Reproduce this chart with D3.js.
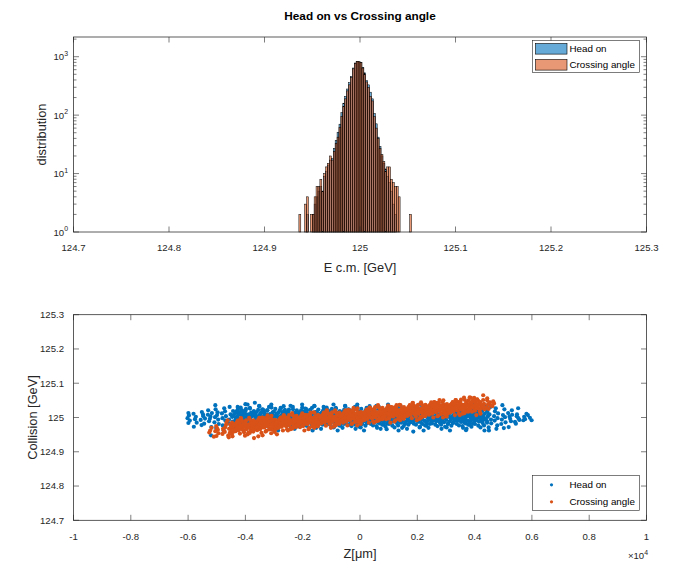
<!DOCTYPE html>
<html>
<head>
<meta charset="utf-8">
<title>Head on vs Crossing angle</title>
<script src="https://cdn.jsdelivr.net/npm/d3@7/dist/d3.min.js"></script>
<style>
  html, body { margin: 0; padding: 0; background: #fff; }
  svg { display: block; font-family: "Liberation Sans", Arial, Helvetica, sans-serif; }
</style>
</head>
<body>
<svg id="fig" width="674" height="564"></svg>
<script>
// ---------- Histogram of the centre-of-mass energy ----------
const binStart = 124.936;   // GeV, left edge of the first bin
const binWidth = 0.002;     // GeV
const headOnCounts = [0,0,0,1,2,0,1,2,3,4, 5,6,5,9,11,14,17,18,27,37, 51,70,110,160,210,280,360,460,640,780,
  820,810,800,660,530,390,330,247,190,107, 71,42,29,20,15,12,9,7,5,3, 2,1,0,0,0,0,0,0,0];
const crossingCounts = [2,0,0,3,4,0,2,2,4,6, 6,8,5,10,13,15,20,17,24,33, 42,62,95,140,190,260,330,440,620,770,
  830,820,790,640,500,370,300,210,175,95, 60,40,27,21,16,11,13,13,8,7, 6,6,4,0,0,0,0,0,2];

const energyTicks = [124.7, 124.8, 124.9, 125, 125.1, 125.2, 125.3];
const countTicks = [1, 10, 100, 1000];
const countExponents = ["0", "1", "2", "3"];
const countMax = 2174;

// ---------- Collision energy against longitudinal position ----------
// each point: [z in μm, deviation from the nominal energy in MeV]
const nominalEnergy = 125; // GeV
const headOnPoints = [
  [-6020,-2],[-5970,6],[-5940,-9],[-5990,13],[-5990,-16],[-5800,-27],[-5810,11],[-5760,-5],[-5700,-15],[-5730,2],
  [-5560,-7],[-5520,16],[-5470,4],[-5440,-18],[-5530,-22],[-5480,9],[-5410,-3],[-5300,21],[-5270,-11],[-5220,3],
  [-5190,-28],[-5310,8],[-5240,-4],[-5170,13],[-5200,-52],[-5050,36],[-5080,-14],[-5040,24],[-4990,7],[-4950,-6],
  [-5020,-31],[-4970,15],[-4930,-19],[-5060,1],[-4820,12],[-4790,-23],[-4740,27],[-4700,-9],[-4680,4],[-4760,-38],
  [-4710,18],[-4800,-2],[-4580,-17],[-4550,31],[-4520,9],[-4490,-29],[-4460,2],[-4430,19],[-4570,-6],[-4500,-42],
  [-4440,-12],[-3670,43],[-4000,39],
  [-4360,-33],[-4310,-21],[-4260,-14],[-4210,-9],[-4160,-4],[-4335,0],[-4285,4],[-4235,9],[-4185,14],[-4135,21],[-4270,31],
  [-3905,-27],[-4120,-18],[-3970,-12],[-4045,-7],[-3890,-2],[-4070,2],[-3940,6],[-4005,11],[-4100,17],[-3980,25],[-3925,38],
  [-3780,-38],[-3680,-24],[-3865,-16],[-3740,-10],[-3825,-5],[-3645,-1],[-3800,3],[-3665,7],[-3755,12],[-3705,19],[-3845,28],
  [-3610,-30],[-3560,-19],[-3510,-13],[-3460,-8],[-3410,-3],[-3585,1],[-3535,5],[-3485,10],[-3435,16],[-3385,23],[-3520,34],
  [-3155,-33],[-3370,-21],[-3220,-14],[-3295,-9],[-3140,-4],[-3320,0],[-3190,4],[-3255,9],[-3350,14],[-3230,21],[-3175,31],
  [-3030,-27],[-2930,-18],[-3115,-12],[-2990,-7],[-3075,-2],[-2895,2],[-3050,6],[-2915,11],[-3005,17],[-2955,25],[-3095,38],
  [-2860,-38],[-2810,-24],[-2760,-16],[-2710,-10],[-2660,-5],[-2835,-1],[-2785,3],[-2735,7],[-2685,12],[-2635,19],[-2770,28],
  [-2405,-30],[-2620,-19],[-2470,-13],[-2545,-8],[-2390,-3],[-2570,1],[-2440,5],[-2505,10],[-2600,16],[-2480,23],[-2425,34],
  [-2280,-33],[-2180,-21],[-2365,-14],[-2240,-9],[-2325,-4],[-2145,0],[-2300,4],[-2165,9],[-2255,14],[-2205,21],[-2345,31],
  [-2110,-27],[-2060,-18],[-2010,-12],[-1960,-7],[-1910,-2],[-2085,2],[-2035,6],[-1985,11],[-1935,17],[-1885,25],[-2020,38],
  [-1655,-38],[-1870,-24],[-1720,-16],[-1795,-10],[-1640,-5],[-1820,-1],[-1690,3],[-1755,7],[-1850,12],[-1730,19],[-1675,28],
  [-1530,-30],[-1430,-19],[-1615,-13],[-1490,-8],[-1575,-3],[-1395,1],[-1550,5],[-1415,10],[-1505,16],[-1455,23],[-1595,34],
  [-1360,-33],[-1310,-21],[-1260,-14],[-1210,-9],[-1160,-4],[-1335,0],[-1285,4],[-1235,9],[-1185,14],[-1135,21],[-1270,31],
  [-905,-27],[-1120,-18],[-970,-12],[-1045,-7],[-890,-2],[-1070,2],[-940,6],[-1005,11],[-1100,17],[-980,25],[-925,38],
  [-780,-38],[-680,-24],[-865,-16],[-740,-10],[-825,-5],[-645,-1],[-800,3],[-665,7],[-755,12],[-705,19],[-845,28],
  [-610,-30],[-560,-19],[-510,-13],[-460,-8],[-410,-3],[-585,1],[-535,5],[-485,10],[-435,16],[-385,23],[-520,34],
  [-155,-33],[-370,-21],[-220,-14],[-295,-9],[-140,-4],[-320,0],[-190,4],[-255,9],[-350,14],[-230,21],[-175,31],
  [-30,-27],[70,-18],[-115,-12],[10,-7],[-75,-2],[105,2],[-50,6],[85,11],[-5,17],[45,25],[-95,38],
  [140,-38],[190,-24],[240,-16],[290,-10],[340,-5],[165,-1],[215,3],[265,7],[315,12],[365,19],[230,28],
  [595,-30],[380,-19],[530,-13],[455,-8],[610,-3],[430,1],[560,5],[495,10],[400,16],[520,23],[575,34],
  [720,-33],[820,-21],[635,-14],[760,-9],[675,-4],[855,0],[700,4],[835,9],[745,14],[795,21],[655,31],
  [890,-27],[940,-18],[990,-12],[1040,-7],[1090,-2],[915,2],[965,6],[1015,11],[1065,17],[1115,25],[980,38],
  [1345,-38],[1130,-24],[1280,-16],[1205,-10],[1360,-5],[1180,-1],[1310,3],[1245,7],[1150,12],[1270,19],[1325,28],
  [1470,-30],[1570,-19],[1385,-13],[1510,-8],[1425,-3],[1605,1],[1450,5],[1585,10],[1495,16],[1545,23],[1405,34],
  [1640,-33],[1690,-21],[1740,-14],[1790,-9],[1840,-4],[1665,0],[1715,4],[1765,9],[1815,14],[1865,21],[1730,31],
  [2095,-27],[1880,-18],[2030,-12],[1955,-7],[2110,-2],[1930,2],[2060,6],[1995,11],[1900,17],[2020,25],[2075,38],
  [2220,-38],[2320,-24],[2135,-16],[2260,-10],[2175,-5],[2355,-1],[2200,3],[2335,7],[2245,12],[2295,19],[2155,28],
  [2390,-30],[2440,-19],[2490,-13],[2540,-8],[2590,-3],[2415,1],[2465,5],[2515,10],[2565,16],[2615,23],[2480,34],
  [2845,-33],[2630,-21],[2780,-14],[2705,-9],[2860,-4],[2680,0],[2810,4],[2745,9],[2650,14],[2770,21],[2825,31],
  [2970,-27],[3070,-18],[2885,-12],[3010,-7],[2925,-2],[3105,2],[2950,6],[3085,11],[2995,17],[3045,25],[2905,38],
  [3140,-38],[3190,-24],[3240,-16],[3290,-10],[3340,-5],[3165,-1],[3215,3],[3265,7],[3315,12],[3365,19],[3230,28],
  [3595,-30],[3380,-19],[3530,-13],[3455,-8],[3610,-3],[3430,1],[3560,5],[3495,10],[3400,16],[3520,23],[3575,34],
  [3720,-33],[3820,-21],[3635,-14],[3760,-9],[3675,-4],[3855,0],[3700,4],[3835,9],[3745,14],[3795,21],[3655,31],
  [3890,-27],[3940,-18],[3990,-12],[4040,-7],[4090,-2],[3915,2],[3965,6],[4015,11],[4065,17],[4115,25],[3980,38],
  [4345,-38],[4130,-24],[4280,-16],[4205,-10],[4360,-5],[4180,-1],[4310,3],[4245,7],[4150,12],[4270,19],[4325,28],
  [-4475,-25],[-4430,-17],[-4380,-11],[-4330,-6],[-4280,-2],[-4455,3],[-4405,8],[-4355,13],[-4305,18],[-4265,24],
  [-4045,-21],[-4235,-14],[-4100,-9],[-4185,-4],[-4020,0],[-4140,5],[-4070,10],[-4215,15],[-4120,21],[-4165,29],
  [-3920,-29],[-3815,-19],[-3970,-12],[-3860,-7],[-3945,-1],[-3775,4],[-3895,9],[-3800,14],[-3995,20],[-3840,26],
  [-3725,-23],[-3680,-15],[-3630,-10],[-3580,-5],[-3530,1],[-3705,6],[-3655,11],[-3605,16],[-3555,22],[-3515,33],
  [-3295,-25],[-3485,-17],[-3350,-11],[-3435,-6],[-3270,-2],[-3390,3],[-3320,8],[-3465,13],[-3370,18],[-3415,24],
  [-3170,-21],[-3065,-14],[-3220,-9],[-3110,-4],[-3195,0],[-3025,5],[-3145,10],[-3050,15],[-3245,21],[-3090,29],
  [-2975,-29],[-2930,-19],[-2880,-12],[-2830,-7],[-2780,-1],[-2955,4],[-2905,9],[-2855,14],[-2805,20],[-2765,26],
  [-2545,-23],[-2735,-15],[-2600,-10],[-2685,-5],[-2520,1],[-2640,6],[-2570,11],[-2715,16],[-2620,22],[-2665,33],
  [-2420,-25],[-2315,-17],[-2470,-11],[-2360,-6],[-2445,-2],[-2275,3],[-2395,8],[-2300,13],[-2495,18],[-2340,24],
  [-2225,-21],[-2180,-14],[-2130,-9],[-2080,-4],[-2030,0],[-2205,5],[-2155,10],[-2105,15],[-2055,21],[-2015,29],
  [-1795,-29],[-1985,-19],[-1850,-12],[-1935,-7],[-1770,-1],[-1890,4],[-1820,9],[-1965,14],[-1870,20],[-1915,26],
  [-1670,-23],[-1565,-15],[-1720,-10],[-1610,-5],[-1695,1],[-1525,6],[-1645,11],[-1550,16],[-1745,22],[-1590,33],
  [-1475,-25],[-1430,-17],[-1380,-11],[-1330,-6],[-1280,-2],[-1455,3],[-1405,8],[-1355,13],[-1305,18],[-1265,24],
  [-1045,-21],[-1235,-14],[-1100,-9],[-1185,-4],[-1020,0],[-1140,5],[-1070,10],[-1215,15],[-1120,21],[-1165,29],
  [-920,-29],[-815,-19],[-970,-12],[-860,-7],[-945,-1],[-775,4],[-895,9],[-800,14],[-995,20],[-840,26],
  [-725,-23],[-680,-15],[-630,-10],[-580,-5],[-530,1],[-705,6],[-655,11],[-605,16],[-555,22],[-515,33],
  [-295,-25],[-485,-17],[-350,-11],[-435,-6],[-270,-2],[-390,3],[-320,8],[-465,13],[-370,18],[-415,24],
  [-170,-21],[-65,-14],[-220,-9],[-110,-4],[-195,0],[-25,5],[-145,10],[-50,15],[-245,21],[-90,29],
  [25,-29],[70,-19],[120,-12],[170,-7],[220,-1],[45,4],[95,9],[145,14],[195,20],[235,26],
  [455,-23],[265,-15],[400,-10],[315,-5],[480,1],[360,6],[430,11],[285,16],[380,22],[335,33],
  [580,-25],[685,-17],[530,-11],[640,-6],[555,-2],[725,3],[605,8],[700,13],[505,18],[660,24],
  [775,-21],[820,-14],[870,-9],[920,-4],[970,0],[795,5],[845,10],[895,15],[945,21],[985,29],
  [1205,-29],[1015,-19],[1150,-12],[1065,-7],[1230,-1],[1110,4],[1180,9],[1035,14],[1130,20],[1085,26],
  [1330,-23],[1435,-15],[1280,-10],[1390,-5],[1305,1],[1475,6],[1355,11],[1450,16],[1255,22],[1410,33],
  [1525,-25],[1570,-17],[1620,-11],[1670,-6],[1720,-2],[1545,3],[1595,8],[1645,13],[1695,18],[1735,24],
  [1955,-21],[1765,-14],[1900,-9],[1815,-4],[1980,0],[1860,5],[1930,10],[1785,15],[1880,21],[1835,29],
  [2080,-29],[2185,-19],[2030,-12],[2140,-7],[2055,-1],[2225,4],[2105,9],[2200,14],[2005,20],[2160,26],
  [2275,-23],[2320,-15],[2370,-10],[2420,-5],[2470,1],[2295,6],[2345,11],[2395,16],[2445,22],[2485,33],
  [2705,-25],[2515,-17],[2650,-11],[2565,-6],[2730,-2],[2610,3],[2680,8],[2535,13],[2630,18],[2585,24],
  [2830,-21],[2935,-14],[2780,-9],[2890,-4],[2805,0],[2975,5],[2855,10],[2950,15],[2755,21],[2910,29],
  [3025,-29],[3070,-19],[3120,-12],[3170,-7],[3220,-1],[3045,4],[3095,9],[3145,14],[3195,20],[3235,26],
  [3455,-23],[3265,-15],[3400,-10],[3315,-5],[3480,1],[3360,6],[3430,11],[3285,16],[3380,22],[3335,33],
  [3580,-25],[3685,-17],[3530,-11],[3640,-6],[3555,-2],[3725,3],[3605,8],[3700,13],[3505,18],[3660,24],
  [3775,-21],[3820,-14],[3870,-9],[3920,-4],[3970,0],[3795,5],[3845,10],[3895,15],[3945,21],[3985,29],
  [4205,-29],[4015,-19],[4150,-12],[4065,-7],[4230,-1],[4110,4],[4180,9],[4035,14],[4130,20],[4085,26],
  [4330,-23],[4435,-15],[4280,-10],[4390,-5],[4305,1],[4475,6],[4355,11],[4450,16],[4255,22],[4410,33],
  [4580,-17],[4550,31],[4520,9],[4490,-29],[4460,2],[4430,19],[4570,-6],[4500,-38],[4440,-12],[4820,12],
  [4790,-23],[4740,27],[4700,-9],[4680,4],[4760,-33],[4710,18],[4800,-2],[5080,-14],[5040,24],[4990,7],
  [4950,-6],[5020,-31],[4970,36],[4930,-19],[5060,1],[5300,21],[5270,-11],[5220,3],[5190,-28],[5310,8],
  [5240,-4],[5170,13],[5560,-7],[5520,27],[5470,4],[5440,-18],[5530,-2],[5480,9],[5410,-13],[5810,11],
  [5760,-5],[5700,-8],[5730,2],[5860,7],[5930,-1],[5990,-8],[3700,-37],[930,-34],[1860,-41]
];
const crossingPoints = [
  [-5230,-38],[-5180,-30],[-5260,-44],[-5100,-56],[-5010,-54],[-5050,-40],[-4990,-31],[-4940,-46],[-5020,-25],[-4960,-36],
  [-4800,-48],[-4760,-38],[-4710,-29],[-4680,-22],[-4780,-33],[-4720,-42],[-4660,-15],[-4580,-58],[-4450,-55],[-3700,-60],
  [-3550,-55],[-3400,-52],[-2900,-49],
  [-4600,-53],[-4545,-45],[-4480,-40],[-4425,-36],[-4570,-33],[-4515,-30],[-4450,-27],[-4395,-24],[-4530,-20],[-4465,-15],[-4620,-8],
  [-4190,-47],[-4340,-40],[-4240,-36],[-4135,-32],[-4305,-29],[-4165,-26],[-4275,-23],[-4360,-20],[-4210,-16],[-4255,-10],[-4155,-2],
  [-4015,-53],[-3890,-43],[-4080,-37],[-3965,-33],[-4120,-30],[-3935,-27],[-4040,-25],[-3910,-22],[-3995,-19],[-4065,-14],[-3975,-8],
  [-3850,-45],[-3795,-37],[-3730,-33],[-3675,-29],[-3820,-26],[-3765,-23],[-3700,-20],[-3645,-17],[-3780,-13],[-3715,-8],[-3870,-1],
  [-3440,-45],[-3590,-37],[-3490,-32],[-3385,-28],[-3555,-25],[-3415,-22],[-3525,-19],[-3610,-16],[-3460,-12],[-3505,-7],[-3405,0],
  [-3265,-39],[-3140,-32],[-3330,-28],[-3215,-24],[-3370,-21],[-3185,-18],[-3290,-15],[-3160,-12],[-3245,-8],[-3315,-2],[-3225,6],
  [-3100,-46],[-3045,-36],[-2980,-30],[-2925,-26],[-3070,-23],[-3015,-20],[-2950,-18],[-2895,-15],[-3030,-12],[-2965,-7],[-3120,-1],
  [-2690,-38],[-2840,-30],[-2740,-26],[-2635,-22],[-2805,-19],[-2665,-16],[-2775,-13],[-2860,-10],[-2710,-6],[-2755,-1],[-2655,6],
  [-2515,-38],[-2390,-30],[-2580,-25],[-2465,-21],[-2620,-18],[-2435,-15],[-2540,-12],[-2410,-9],[-2495,-5],[-2565,0],[-2475,7],
  [-2350,-32],[-2295,-25],[-2230,-21],[-2175,-17],[-2320,-14],[-2265,-11],[-2200,-8],[-2145,-5],[-2280,-1],[-2215,5],[-2370,13],
  [-1940,-38],[-2090,-28],[-1990,-22],[-1885,-18],[-2055,-15],[-1915,-12],[-2025,-10],[-2110,-7],[-1960,-4],[-2005,1],[-1905,7],
  [-1765,-30],[-1640,-22],[-1830,-18],[-1715,-14],[-1870,-11],[-1685,-8],[-1790,-5],[-1660,-2],[-1745,2],[-1815,7],[-1725,14],
  [-1600,-30],[-1545,-22],[-1480,-17],[-1425,-13],[-1570,-10],[-1515,-7],[-1450,-4],[-1395,-1],[-1530,3],[-1465,8],[-1620,15],
  [-1190,-24],[-1340,-17],[-1240,-13],[-1135,-9],[-1305,-6],[-1165,-3],[-1275,0],[-1360,3],[-1210,7],[-1255,13],[-1155,21],
  [-1015,-30],[-890,-20],[-1080,-14],[-965,-10],[-1120,-7],[-935,-4],[-1040,-2],[-910,1],[-995,4],[-1065,9],[-975,15],
  [-850,-23],[-795,-15],[-730,-11],[-675,-7],[-820,-4],[-765,-1],[-700,2],[-645,5],[-780,9],[-715,14],[-870,21],
  [-440,-23],[-590,-15],[-490,-10],[-385,-6],[-555,-3],[-415,0],[-525,3],[-610,6],[-460,10],[-505,15],[-405,22],
  [-265,-17],[-140,-10],[-330,-6],[-215,-2],[-370,1],[-185,4],[-290,7],[-160,10],[-245,14],[-315,20],[-225,28],
  [-100,-23],[-45,-13],[20,-7],[75,-3],[-70,0],[-15,3],[50,5],[105,8],[-30,11],[35,16],[-120,22],
  [310,-15],[160,-7],[260,-3],[365,1],[195,4],[335,7],[225,10],[140,13],[290,17],[245,22],[345,29],
  [485,-15],[610,-7],[420,-2],[535,2],[380,5],[565,8],[460,11],[590,14],[505,18],[435,23],[525,30],
  [650,-9],[705,-2],[770,2],[825,6],[680,9],[735,12],[800,15],[855,18],[720,22],[785,28],[630,36],
  [1060,-15],[910,-5],[1010,1],[1115,5],[945,8],[1085,11],[975,13],[890,16],[1040,19],[995,24],[1095,30],
  [1235,-8],[1360,0],[1170,4],[1285,8],[1130,11],[1315,14],[1210,17],[1340,20],[1255,24],[1185,29],[1275,36],
  [1400,-8],[1455,0],[1520,5],[1575,9],[1430,12],[1485,15],[1550,18],[1605,21],[1470,25],[1535,30],[1380,37],
  [1810,-2],[1660,5],[1760,9],[1865,13],[1695,16],[1835,19],[1725,22],[1640,25],[1790,29],[1745,35],[1845,43],
  [1985,-8],[2110,2],[1920,8],[2035,12],[1880,15],[2065,18],[1960,20],[2090,23],[2005,26],[1935,31],[2025,37],
  [2150,0],[2205,8],[2270,12],[2325,16],[2180,19],[2235,22],[2300,25],[2355,28],[2220,32],[2285,37],[2130,44],
  [2560,0],[2410,8],[2510,13],[2615,17],[2445,20],[2585,23],[2475,26],[2390,29],[2540,33],[2495,38],[2595,45],
  [2735,6],[2860,13],[2670,17],[2785,21],[2630,24],[2815,27],[2710,30],[2840,33],[2755,37],[2685,43],[2775,51],
  [2900,0],[2955,10],[3020,16],[3075,20],[2930,23],[2985,26],[3050,28],[3105,31],[2970,34],[3035,39],[2880,45],
  [3310,7],[3160,15],[3260,19],[3365,23],[3195,26],[3335,29],[3225,32],[3140,35],[3290,39],[3245,44],[3345,51],
  [3485,7],[3610,15],[3420,20],[3535,24],[3380,27],[3565,30],[3460,33],[3590,36],[3505,40],[3435,45],[3525,52],
  [3650,13],[3705,20],[3770,24],[3825,28],[3680,31],[3735,34],[3800,37],[3855,40],[3720,44],[3785,50],[3630,58],
  [4060,7],[3910,17],[4010,23],[4115,27],[3945,30],[4085,33],[3975,35],[3890,38],[4040,41],[3995,46],[4095,52],
  [-4475,-49],[-4430,-42],[-4380,-37],[-4330,-33],[-4280,-30],[-4455,-26],[-4405,-23],[-4355,-19],[-4305,-15],[-4265,-9],
  [-4045,-43],[-4235,-37],[-4100,-33],[-4185,-29],[-4020,-26],[-4140,-23],[-4070,-19],[-4215,-15],[-4120,-10],[-4165,-3],
  [-3920,-49],[-3815,-40],[-3970,-34],[-3860,-30],[-3945,-27],[-3775,-24],[-3895,-20],[-3800,-16],[-3995,-12],[-3840,-7],
  [-3725,-41],[-3680,-34],[-3630,-30],[-3580,-26],[-3530,-23],[-3705,-19],[-3655,-16],[-3605,-12],[-3555,-7],[-3515,-1],
  [-3295,-41],[-3485,-34],[-3350,-29],[-3435,-25],[-3270,-22],[-3390,-18],[-3320,-15],[-3465,-11],[-3370,-7],[-3415,-1],
  [-3170,-35],[-3065,-29],[-3220,-25],[-3110,-21],[-3195,-18],[-3025,-15],[-3145,-11],[-3050,-7],[-3245,-2],[-3090,5],
  [-2975,-42],[-2930,-33],[-2880,-27],[-2830,-23],[-2780,-20],[-2955,-17],[-2905,-13],[-2855,-9],[-2805,-5],[-2765,0],
  [-2545,-34],[-2735,-27],[-2600,-23],[-2685,-19],[-2520,-16],[-2640,-12],[-2570,-9],[-2715,-5],[-2620,0],[-2665,6],
  [-2420,-34],[-2315,-27],[-2470,-22],[-2360,-18],[-2445,-15],[-2275,-11],[-2395,-8],[-2300,-4],[-2495,0],[-2340,6],
  [-2225,-28],[-2180,-22],[-2130,-18],[-2080,-14],[-2030,-11],[-2205,-8],[-2155,-4],[-2105,0],[-2055,5],[-2015,12],
  [-1795,-34],[-1985,-25],[-1850,-19],[-1935,-15],[-1770,-12],[-1890,-9],[-1820,-5],[-1965,-1],[-1870,3],[-1915,8],
  [-1670,-26],[-1565,-19],[-1720,-15],[-1610,-11],[-1695,-8],[-1525,-4],[-1645,-1],[-1550,3],[-1745,8],[-1590,14],
  [-1475,-26],[-1430,-19],[-1380,-14],[-1330,-10],[-1280,-7],[-1455,-3],[-1405,0],[-1355,4],[-1305,8],[-1265,14],
  [-1045,-20],[-1235,-14],[-1100,-10],[-1185,-6],[-1020,-3],[-1140,0],[-1070,4],[-1215,8],[-1120,13],[-1165,20],
  [-920,-27],[-815,-18],[-970,-12],[-860,-8],[-945,-5],[-775,-2],[-895,2],[-800,6],[-995,10],[-840,15],
  [-725,-19],[-680,-12],[-630,-8],[-580,-4],[-530,-1],[-705,3],[-655,6],[-605,10],[-555,15],[-515,21],
  [-295,-19],[-485,-12],[-350,-7],[-435,-3],[-270,0],[-390,4],[-320,7],[-465,11],[-370,15],[-415,21],
  [-170,-13],[-65,-7],[-220,-3],[-110,1],[-195,4],[-25,7],[-145,11],[-50,15],[-245,20],[-90,27],
  [25,-19],[70,-10],[120,-4],[170,0],[220,3],[45,6],[95,10],[145,14],[195,18],[235,23],
  [455,-11],[265,-4],[400,0],[315,4],[480,7],[360,11],[430,14],[285,18],[380,23],[335,29],
  [580,-11],[685,-4],[530,1],[640,5],[555,8],[725,12],[605,15],[700,19],[505,23],[660,29],
  [775,-5],[820,1],[870,5],[920,9],[970,12],[795,15],[845,19],[895,23],[945,28],[985,35],
  [1205,-12],[1015,-3],[1150,3],[1065,7],[1230,10],[1110,13],[1180,17],[1035,21],[1130,25],[1085,30],
  [1330,-4],[1435,3],[1280,7],[1390,11],[1305,14],[1475,18],[1355,21],[1450,25],[1255,30],[1410,36],
  [1525,-4],[1570,3],[1620,8],[1670,12],[1720,15],[1545,19],[1595,22],[1645,26],[1695,30],[1735,36],
  [1955,2],[1765,8],[1900,12],[1815,16],[1980,19],[1860,22],[1930,26],[1785,30],[1880,35],[1835,42],
  [2080,-4],[2185,5],[2030,11],[2140,15],[2055,18],[2225,21],[2105,25],[2200,29],[2005,33],[2160,38],
  [2275,4],[2320,11],[2370,15],[2420,19],[2470,22],[2295,26],[2345,29],[2395,33],[2445,38],[2485,44],
  [2705,4],[2515,11],[2650,16],[2565,20],[2730,23],[2610,27],[2680,30],[2535,34],[2630,38],[2585,44],
  [2830,10],[2935,16],[2780,20],[2890,24],[2805,27],[2975,30],[2855,34],[2950,38],[2755,43],[2910,50],
  [3025,3],[3070,12],[3120,18],[3170,22],[3220,25],[3045,28],[3095,32],[3145,36],[3195,40],[3235,45],
  [3455,11],[3265,18],[3400,22],[3315,26],[3480,29],[3360,33],[3430,36],[3285,40],[3380,45],[3335,51],
  [3580,11],[3685,18],[3530,23],[3640,27],[3555,30],[3725,34],[3605,37],[3700,41],[3505,45],[3660,51],
  [3775,17],[3820,23],[3870,27],[3920,31],[3970,34],[3795,37],[3845,41],[3895,45],[3945,50],[3985,57],
  [4205,11],[4015,20],[4150,26],[4065,30],[4230,33],[4110,36],[4180,40],[4035,44],[4130,48],[4085,53],
  [4180,18],[4230,27],[4290,33],[4330,40],[4210,45],[4270,36],[4350,24],[4300,51],[4420,30],[4470,39],
  [4540,44],[4490,25],[4560,35],[4440,50],[4620,33],[4680,41],[4650,47],[3830,59],[3870,57],[4300,65],[4440,56]
];

const zTicks = [-1, -0.8, -0.6, -0.4, -0.2, 0, 0.2, 0.4, 0.6, 0.8, 1]; // in units of 10^4 μm
const zExponent = "4";
const collisionTicks = [124.7, 124.8, 124.9, 125, 125.1, 125.2, 125.3];

const seriesNames = ["Head on", "Crossing angle"];
const seriesColors = ["#0072BD", "#D95319"];

// ---------- drawing ----------
const svg = d3.select("#fig");
const ink = "#262626";
const tickFont = 9.6, labelFont = 12.8, legendFont = 9.8;
const majorLen = 5.5, minorLen = 3;
const dotRadius = 2.1;

svg.append("rect").attr("width", 674).attr("height", 564).attr("fill", "#fff");

const boxA = { l: 73.5, r: 646.5, t: 37, b: 232 };
const boxB = { l: 73.5, r: 646.5, t: 314.7, b: 520.3 };

function mirroredTicks(g, box, xScale, xVals, yScale, yVals, len) {
  g.selectAll(null).data(xVals).join("path")
    .attr("d", v => { const x = xScale(v);
      return `M${x},${box.b}V${box.b - len}M${x},${box.t}V${box.t + len}`; })
    .attr("stroke", ink).attr("stroke-width", 0.6).attr("fill", "none");
  g.selectAll(null).data(yVals).join("path")
    .attr("d", v => { const y = yScale(v);
      return `M${box.l},${y}H${box.l + len}M${box.r},${y}H${box.r - len}`; })
    .attr("stroke", ink).attr("stroke-width", 0.6).attr("fill", "none");
}

function frameBox(g, box) {
  g.append("rect").attr("x", box.l).attr("y", box.t)
    .attr("width", box.r - box.l).attr("height", box.b - box.t)
    .attr("fill", "none").attr("stroke", ink).attr("stroke-width", 0.75);
}

// ===== top panel: histograms =====
const gA = svg.append("g");
const xA = d3.scaleLinear().domain([energyTicks[0], energyTicks[energyTicks.length - 1]]).range([boxA.l, boxA.r]);
const yA = d3.scaleLog().domain([1, countMax]).range([boxA.b, boxA.t]);

function histBars(counts, color) {
  const bars = counts.map((c, i) => ({ x0: binStart + i * binWidth, x1: binStart + (i + 1) * binWidth, c }))
    .filter(d => d.c >= 1);
  gA.append("g").selectAll("rect").data(bars).join("rect")
    .attr("x", d => xA(d.x0)).attr("width", d => xA(d.x1) - xA(d.x0))
    .attr("y", d => yA(d.c)).attr("height", d => yA(1) - yA(d.c))
    .attr("fill", color).attr("fill-opacity", 0.6)
    .attr("stroke", "#000").attr("stroke-width", 0.5);
}
histBars(headOnCounts, seriesColors[0]);
histBars(crossingCounts, seriesColors[1]);

const minorCounts = [];
for (let k = 0; k <= 3; k++) for (let m = 2; m <= 9; m++) {
  const v = m * Math.pow(10, k); if (v <= countMax) minorCounts.push(v);
}
mirroredTicks(gA, boxA, xA, energyTicks, yA, countTicks, majorLen);
mirroredTicks(gA, boxA, xA, [], yA, minorCounts, minorLen);
frameBox(gA, boxA);

gA.selectAll(null).data(energyTicks).join("text")
  .attr("x", d => xA(d)).attr("y", boxA.b + 19)
  .attr("text-anchor", "middle").attr("font-size", tickFont).attr("fill", ink)
  .text(d => String(d));

const yLabA = gA.selectAll(null).data(countTicks).join("text")
  .attr("x", boxA.l - 5.5).attr("y", d => yA(d) + 3.6)
  .attr("text-anchor", "end").attr("font-size", tickFont).attr("fill", ink);
yLabA.append("tspan").text("10");
yLabA.append("tspan").attr("dy", -4.5).attr("font-size", tickFont * 0.72)
  .text((d, i) => countExponents[i]);

svg.append("text").attr("x", (boxA.l + boxA.r) / 2).attr("y", 19.5)
  .attr("text-anchor", "middle").attr("font-size", 11.8).attr("font-weight", "bold")
  .attr("fill", "#000").text("Head on vs Crossing angle");
svg.append("text").attr("x", (boxA.l + boxA.r) / 2).attr("y", 272)
  .attr("text-anchor", "middle").attr("font-size", labelFont).attr("fill", ink)
  .text("E c.m. [GeV]");
svg.append("text").attr("transform", `translate(46,${(boxA.t + boxA.b) / 2}) rotate(-90)`)
  .attr("text-anchor", "middle").attr("font-size", labelFont).attr("fill", ink)
  .text("distribution");

// legend of the histograms
const legA = svg.append("g");
legA.append("rect").attr("x", 532.5).attr("y", 40.5).attr("width", 107).attr("height", 32)
  .attr("fill", "#fff").attr("stroke", ink).attr("stroke-width", 0.6);
seriesNames.forEach((name, i) => {
  const yc = 48.8 + i * 16;
  legA.append("rect").attr("x", 535.5).attr("y", yc - 5.3).attr("width", 31.5).attr("height", 10.6)
    .attr("fill", seriesColors[i]).attr("fill-opacity", 0.6).attr("stroke", "#000").attr("stroke-width", 0.6);
  legA.append("text").attr("x", 569.5).attr("y", yc + 3.5).attr("font-size", legendFont).attr("fill", "#000")
    .text(name);
});

// ===== bottom panel: scatter =====
const gB = svg.append("g");
const xB = d3.scaleLinear().domain([zTicks[0] * 1e4, zTicks[zTicks.length - 1] * 1e4]).range([boxB.l, boxB.r]);
const yB = d3.scaleLinear().domain([collisionTicks[0], collisionTicks[collisionTicks.length - 1]]).range([boxB.b, boxB.t]);

[headOnPoints, crossingPoints].forEach((pts, i) => {
  gB.append("g").selectAll("circle").data(pts).join("circle")
    .attr("cx", d => xB(d[0]))
    .attr("cy", d => yB(nominalEnergy + d[1] / 1000))
    .attr("r", dotRadius)
    .attr("fill", seriesColors[i]);
});

mirroredTicks(gB, boxB, xB, zTicks.map(t => t * 1e4), yB, collisionTicks, majorLen);
frameBox(gB, boxB);

gB.selectAll(null).data(zTicks).join("text")
  .attr("x", d => xB(d * 1e4)).attr("y", boxB.b + 19.5)
  .attr("text-anchor", "middle").attr("font-size", tickFont).attr("fill", ink)
  .text(d => String(d));
gB.selectAll(null).data(collisionTicks).join("text")
  .attr("x", boxB.l - 9.5).attr("y", d => yB(d) + 3.4)
  .attr("text-anchor", "end").attr("font-size", tickFont).attr("fill", ink)
  .text(d => String(d));

const expo = svg.append("text").attr("x", 648).attr("y", 559)
  .attr("text-anchor", "end").attr("font-size", tickFont).attr("fill", ink);
expo.append("tspan").text("\u00d710");
expo.append("tspan").attr("dy", -4.5).attr("font-size", tickFont * 0.72).text(zExponent);

svg.append("text").attr("x", (boxB.l + boxB.r) / 2).attr("y", 558)
  .attr("text-anchor", "middle").attr("font-size", labelFont).attr("fill", ink)
  .text("Z[\u03bcm]");
svg.append("text").attr("transform", `translate(37,${(boxB.t + boxB.b) / 2}) rotate(-90)`)
  .attr("text-anchor", "middle").attr("font-size", labelFont).attr("fill", ink)
  .text("Collision [GeV]");

// legend of the scatter
const legB = svg.append("g");
legB.append("rect").attr("x", 532.5).attr("y", 475.5).attr("width", 107).attr("height", 35)
  .attr("fill", "#fff").attr("stroke", ink).attr("stroke-width", 0.6);
seriesNames.forEach((name, i) => {
  const yc = 484.8 + i * 17;
  legB.append("circle").attr("cx", 551.5).attr("cy", yc).attr("r", 1.6).attr("fill", seriesColors[i]);
  legB.append("text").attr("x", 569.5).attr("y", yc + 3.5).attr("font-size", legendFont).attr("fill", "#000")
    .text(name);
});
</script>
</body>
</html>
